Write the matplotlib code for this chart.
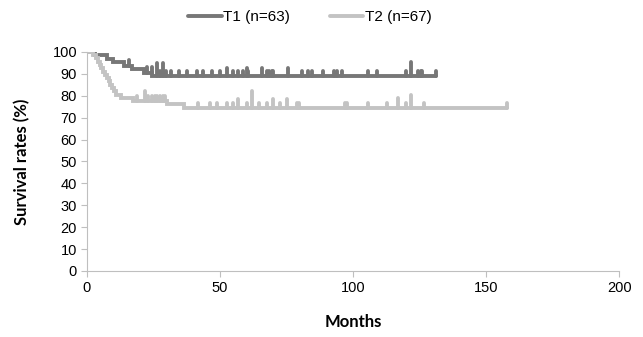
import numpy as np
import matplotlib
matplotlib.use("Agg")
from matplotlib import pyplot as plt
from matplotlib import font_manager

# Kaplan-Meier steps (month, survival %)
t1_times = [0, 3, 7.5, 10, 14, 17, 21.5, 24.5]
t1_surv = [100, 98.4, 96.8, 95.2, 93.6, 92.0, 90.4, 88.8]
t1_end = 131

t2_times = [0, 2.5, 3.5, 4.2, 4.8, 5.4, 6, 6.8, 7.5, 8.2, 8.8, 9.4, 10.2, 11, 13, 17.5, 30, 36.5]
t2_surv = [100, 98.5, 97, 95.5, 94, 92.5, 91, 89.5, 88, 86.5, 85, 83.5, 82, 80.5, 79, 77.5, 76, 74.3]
t2_end = 158

# censored observations (month) and tick height (%)
t1_cens = [16, 22.6, 24.4, 26.3, 27.4, 28.6, 29.7, 31.6, 34.6, 37.6, 41.4, 43.6, 47, 50,
           52.6, 54.9, 56.8, 58.6, 60.2, 60.7, 66, 67.7, 68.4, 69.5, 70, 75.6, 81, 83,
           84.6, 88.7, 93, 94, 96, 105.6, 109, 120, 121.8, 124.4, 125.6, 126, 131]
t1_h = [2.5, 2.5, 2.5, 6, 2.5, 6, 2.5, 2.5, 2.5, 2.5, 2.5, 2.5, 2.5, 2.5,
        4, 2.5, 2.5, 2.5, 4, 2.5, 4, 2.5, 2.5, 2.5, 2.5, 4, 2.5, 2.5,
        2.5, 2.5, 2.5, 2.5, 2.5, 2.5, 2.5, 2.5, 6.5, 2.5, 2.5, 2.5, 2.5]

t2_cens = [18.8, 21.8, 23, 24.4, 25.6, 26.3, 27.4, 28.6, 29.3, 41.7, 46.2, 48.9, 52.6, 54.9,
           56.8, 60.2, 62, 64.7, 67.7, 70, 72.6, 75.2, 79, 79.7, 97, 97.7, 105.6,
           112.8, 117, 120, 121.8, 126.7, 158]
t2_h = [2.5, 4.5, 2.5, 2.5, 2.5, 2.5, 2.5, 2.5, 2.5, 2.5, 2.5, 2.5, 2.5, 2.5,
        4, 2.5, 8, 2.5, 2.5, 4, 2.5, 4, 2.5, 2.5, 2.5, 2.5, 2.5,
        2.5, 4.5, 2.5, 6, 2.5, 2.5]

dark = '#777777'
light = '#c3c3c3'

names = {f.name for f in font_manager.fontManager.ttflist}
if 'Liberation Sans Narrow' in names:
    narrow = ['Liberation Sans Narrow', 'DejaVu Sans']
    nsize = 11
else:
    narrow = ['Liberation Sans', 'DejaVu Sans']
    nsize = 10

fig = plt.figure(figsize=(6.43, 3.37), dpi=100)
ax = fig.add_axes([0.135, 0.196, 0.828, 0.65])


def km(ax, times, surv, end, cens, heights, color, label):
    x = list(times) + [end]
    y = list(surv) + [surv[-1]]
    ax.step(x, y, where='post', color=color, lw=2.8, label=label,
            solid_joinstyle='miter', solid_capstyle='round')
    idx = np.searchsorted(times, cens, side='right') - 1
    base = np.array(surv)[idx]
    ax.vlines(cens, base, base + np.array(heights), color=color, lw=2.8,
              capstyle='round')


km(ax, t1_times, t1_surv, t1_end, t1_cens, t1_h, dark, 'T1 (n=63)')
km(ax, t2_times, t2_surv, t2_end, t2_cens, t2_h, light, 'T2 (n=67)')

ax.set_xlim(0, 200)
ax.set_ylim(0, 100)
ax.set_xticks(np.arange(0, 201, 50))
ax.set_yticks(np.arange(0, 101, 10))
for s in ['top', 'right']:
    ax.spines[s].set_visible(False)
for s in ['left', 'bottom']:
    ax.spines[s].set_color('#bfbfbf')
ax.tick_params(color='#bfbfbf', length=4, width=0.8, labelsize=nsize + 0.5, pad=3)
for lab in ax.get_xticklabels() + ax.get_yticklabels():
    lab.set_family(narrow)

ax.set_xlabel('Months', fontsize=12, fontweight='bold', family=['Lato', 'DejaVu Sans'], labelpad=14)
ax.set_ylabel('Survival rates (%)', fontsize=12, fontweight='bold', family=['Lato', 'DejaVu Sans'], labelpad=16)

fig.legend(loc='center', bbox_to_anchor=(0.482, 0.95), ncol=2, frameon=False,
           prop={'family': narrow, 'size': nsize + 1}, handlelength=2.2, handletextpad=0.1,
           columnspacing=2.6)

fig.savefig('out.png', dpi=100)
